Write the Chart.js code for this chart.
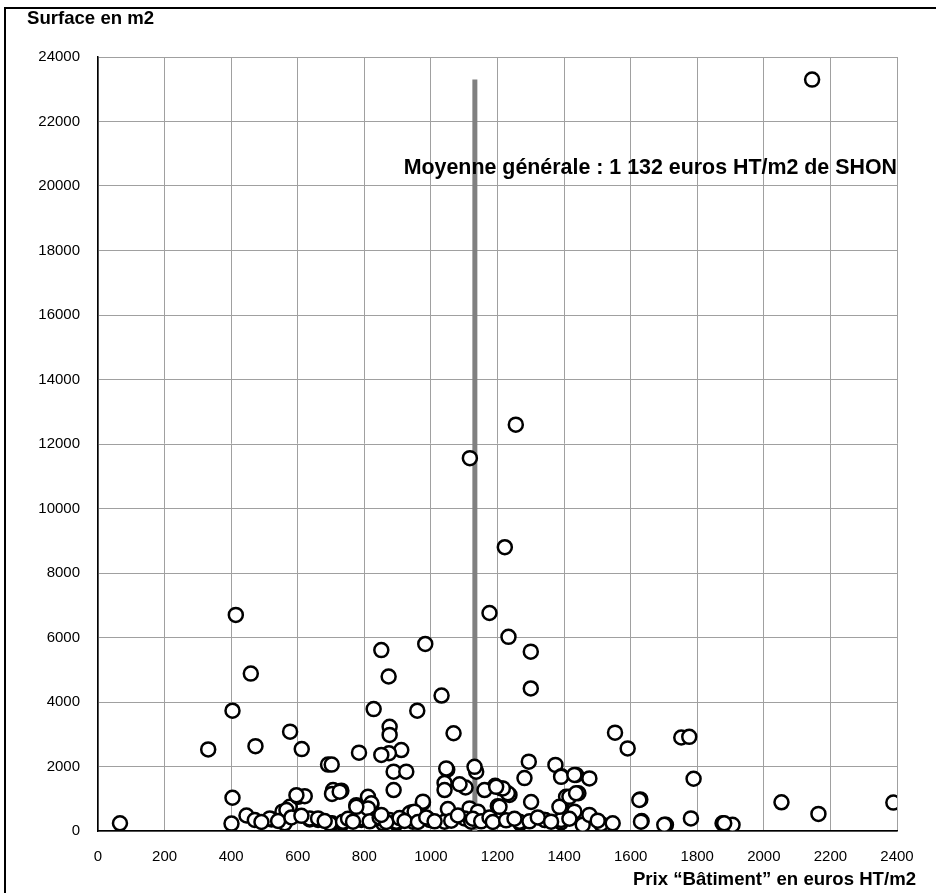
<!DOCTYPE html>
<html>
<head>
<meta charset="utf-8">
<script src="https://cdn.jsdelivr.net/npm/chart.js@4"></script>
<style>
  html, body { margin: 0; padding: 0; background: #fff; }
  #wrap { position: relative; width: 936px; height: 893px; }
  canvas { display: block; }
</style>
</head>
<body>
<div id="wrap"><canvas id="c" width="936" height="893"></canvas></div>
<script>
// ---- Data ----
const xTitle = 'Prix \u201CBâtiment\u201D en euros HT/m2';
const yTitle = 'Surface en m2';
const meanLabel = 'Moyenne générale : 1 132 euros HT/m2 de SHON';
const meanPrice = 1132;
const meanLineTop = 23300;
const xTicksMin = 0, xTicksMax = 2400, xStep = 200;
const yTicksMin = 0, yTicksMax = 24000, yStep = 2000;

// Price (euros HT/m2) of each building
const prices = [
  2145, 1117, 1255, 1222, 1176, 1233, 1300, 1300, 414, 459, 404, 331, 473, 577, 612, 691, 702, 784,
  851, 873, 828, 983, 1032, 959, 1068, 876, 876, 911, 874, 851, 888, 926, 888,
  1553, 1591, 1752, 1776, 1789, 1781, 1706, 1876, 1906, 2053, 2164, 2389,
  1294, 1374, 1392, 1436, 1476, 1443, 1406, 1281, 1301, 1392, 1211, 1193, 1236, 1136, 1131, 1049, 1041,
  1104, 1161, 1051, 976, 943, 996, 896, 1141, 1116, 1206, 1201, 1268, 1343, 1391, 1456, 1511, 1546, 1476,
  1629, 1633,
  66, 404, 401, 446, 471, 521, 554, 561, 576, 601, 621, 636, 661, 706, 731, 703, 734, 703, 791, 821, 811,
  856, 776, 596, 726, 566, 516, 636, 661, 696, 736, 786, 821, 811, 776, 836, 876, 896, 936, 946,
  1041, 1046, 1231, 1216, 1196, 1391, 1431, 976, 951, 1141, 1206, 1041, 1101, 1121, 1266, 1341, 1391,
  1386, 1431, 1416, 1626, 1631, 1701, 1881, 1436,
  816, 846, 866, 906, 921, 961, 986, 1011, 1061, 1081, 1126, 1151, 1176, 1186, 1226, 1251, 1296, 1321,
  1361, 1416, 1501, 491, 541, 581, 611, 681, 751, 766, 851, 1086
];
// Surface (m2) of each building, same order
const surfaces = [
  23300, 11560, 12600, 8800, 6760, 6020, 5560, 4420, 6700, 4880, 3730, 2530, 2630, 3080, 2540, 2060, 2060, 2430,
  5610, 4790, 3780, 5800, 4200, 3730, 3030, 3230, 2980, 2510, 2410, 2360, 1840, 1840, 1270,
  3050, 2560, 2900, 2920, 1620, 390, 190, 240, 190, 890, 530, 880,
  2150, 2050, 1700, 1740, 1630, 1170, 1060, 1640, 900, 700, 1320, 1400, 1120, 1840, 1990, 1900, 1490,
  1350, 1270, 680, 880, 580, 340, 240, 580, 700, 390, 770, 240, 340, 270, 190, 220, 240, 500,
  980, 310,
  240, 1030, 230, 480, 340, 360, 600, 240, 750, 1060, 1080, 360, 340, 1270, 1250, 1150, 240, 240, 340, 810, 1060,
  240, 800, 1110, 1220, 650, 390, 390, 390, 240, 290, 390, 860, 700, 750, 390, 340, 290, 550, 290,
  1270, 1940, 1170, 1320, 1370, 1680, 1740, 910, 600, 600, 750, 290, 390, 290, 290, 340, 340,
  750, 600, 1060, 960, 290, 190, 240, 1170,
  300, 420, 280, 400, 310, 280, 420, 300, 320, 480, 380, 300, 420, 280, 330, 380, 300, 420,
  290, 380, 320, 280, 310, 420, 470, 310, 380, 290, 500, 1450
];

const points = prices.map((p, i) => ({ x: p, y: surfaces[i] }));
const meanLine = [{ x: meanPrice, y: 0 }, { x: meanPrice, y: meanLineTop }];

const FONT = '"Liberation Sans", Arial, Helvetica, sans-serif';

const decor = {
  id: 'decor',
  beforeDraw(chart) {
    const ctx = chart.ctx;
    ctx.save();
    ctx.fillStyle = '#fff';
    ctx.fillRect(0, 0, chart.width, chart.height);
    ctx.strokeStyle = '#000';
    ctx.lineWidth = 2;
    ctx.beginPath();
    ctx.moveTo(5, chart.height);
    ctx.lineTo(5, 8);
    ctx.lineTo(chart.width, 8);
    ctx.stroke();
    ctx.restore();
  },
  afterDraw(chart) {
    const ctx = chart.ctx;
    const a = chart.chartArea;
    ctx.save();
    ctx.fillStyle = '#000';
    ctx.font = 'bold 18.6px ' + FONT;
    ctx.textBaseline = 'middle';
    ctx.textAlign = 'left';
    ctx.fillText(yTitle, 27, 19);
    ctx.textAlign = 'right';
    ctx.fillText(xTitle, 916, 880);
    ctx.font = 'bold 21.4px ' + FONT;
    ctx.fillText(meanLabel, a.right, 168);
    ctx.restore();
  }
};

const plain = v => String(v);

new Chart(document.getElementById('c'), {
  type: 'scatter',
  data: {
    datasets: [
      {
        data: points,
        pointRadius: 7,
        pointHoverRadius: 7,
        pointBackgroundColor: '#fff',
        pointBorderColor: '#000',
        pointBorderWidth: 2.5,
        order: 0
      },
      {
        type: 'line',
        data: meanLine,
        borderColor: '#808080',
        borderWidth: 5,
        pointRadius: 0,
        showLine: true,
        fill: false,
        order: 1
      }
    ]
  },
  options: {
    responsive: false,
    animation: false,
    devicePixelRatio: 1,
    layout: { padding: { left: 0, top: 57, right: 39, bottom: 0 } },
    plugins: { legend: { display: false }, tooltip: { enabled: false } },
    scales: {
      x: {
        type: 'linear',
        min: xTicksMin, max: xTicksMax,
        ticks: { stepSize: xStep, color: '#000', font: { family: FONT, size: 15 }, padding: 17, maxRotation: 0, callback: plain },
        grid: { color: '#a0a0a0', lineWidth: 1, drawTicks: false },
        border: { color: '#000', width: 1.5 },
        afterFit(s) { s.height = 62; }
      },
      y: {
        min: yTicksMin, max: yTicksMax,
        ticks: { stepSize: yStep, color: '#000', font: { family: FONT, size: 15 }, padding: 18, callback: plain },
        grid: { color: '#a0a0a0', lineWidth: 1, drawTicks: false },
        border: { color: '#000', width: 1.5 },
        afterFit(s) { s.width = 98; }
      }
    }
  },
  plugins: [decor]
});
</script>
</body>
</html>
